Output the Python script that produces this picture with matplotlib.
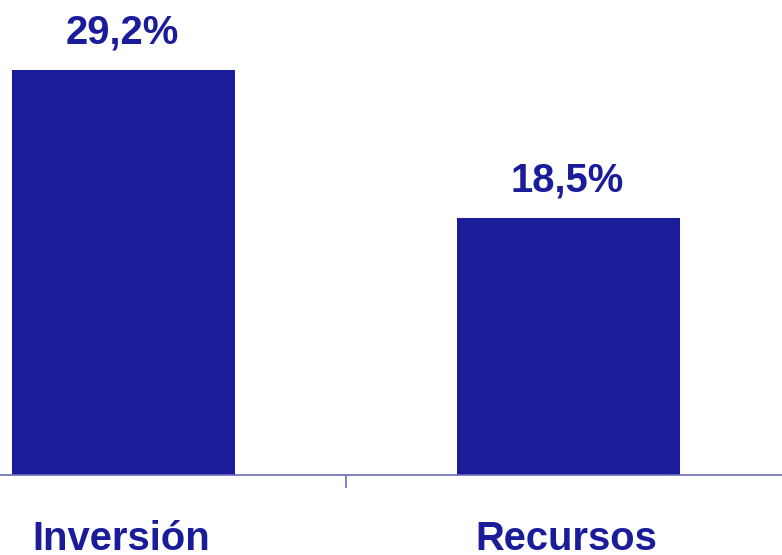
import matplotlib
matplotlib.use("Agg")
import matplotlib.pyplot as plt
from matplotlib.transforms import blended_transform_factory

categories = ["Inversión", "Recursos"]
values = [29.2, 18.5]
value_labels = ["29,2%", "18,5%"]

bar_color = "#1A1C9A"
text_color = "#1A1C9A"
axis_color = "#6B6BBB"

plt.rcParams['font.family'] = ['Liberation Sans', 'DejaVu Sans']

fig = plt.figure(figsize=(7.82, 5.55), dpi=100)
ax = fig.add_axes([0, 80/555, 1, 475/555])
x = list(range(len(categories)))
ax.bar(x, values, width=0.5, color=bar_color, zorder=2)
ax.set_xlim(-0.277, 1.48)
ax.set_ylim(0, 34.25)

for xi, v, lab in zip(x, values, value_labels):
    ax.annotate(lab, (xi, v), xytext=(-1, 19.4), textcoords="offset points",
                ha="center", va="baseline", fontsize=28.8, fontweight="bold",
                color=text_color)

for s in ["top", "right", "left"]:
    ax.spines[s].set_visible(False)
ax.spines["bottom"].set_color(axis_color)
ax.spines["bottom"].set_linewidth(1.2)
ax.set_yticks([])
ax.set_xticks([0.5])
ax.set_xticklabels([])
ax.tick_params(axis="x", length=9.4, width=1.2, color=axis_color, direction="out")

trans = blended_transform_factory(ax.transData, fig.transFigure)
for xi, c in zip(x, categories):
    ax.text(xi - 0.005, 5/555, c, transform=trans, ha="center", va="baseline",
            fontsize=28.8, fontweight="bold", color=text_color, clip_on=False)

fig.savefig("out.png", dpi=100)
